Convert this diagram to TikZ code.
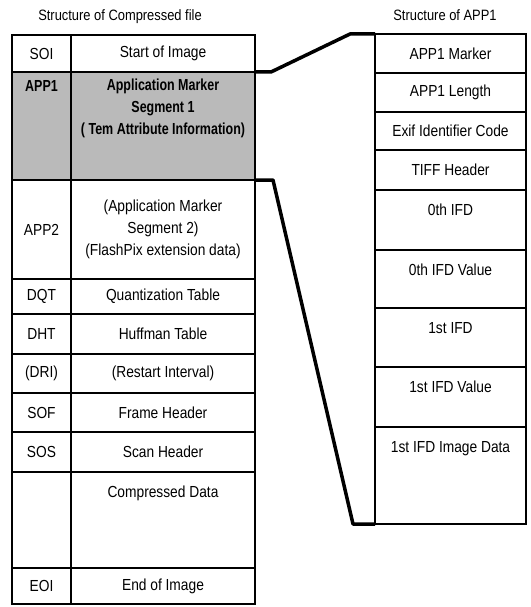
\documentclass[tikz,border=0pt]{standalone}
\usepackage{fontspec}
\setmainfont{Liberation Sans}[FakeStretch=0.86]
\newfontfamily\narrowbold{Liberation Sans}[FakeStretch=0.78]
\usepackage{tikz}
\usetikzlibrary{positioning}
\definecolor{pshade}{HTML}{BABABA}
\newcommand{\cellfont}{\fontsize{16}{22}\selectfont}

\begin{document}
\begin{tikzpicture}[x=1pt, y=1pt, font=\cellfont,
  cell/.style={draw, line width=1.5pt, inner sep=0pt, outer sep=0pt, align=center},
  seg/.style={cell, minimum width=59pt},
  info/.style={cell, minimum width=184pt},
  field/.style={cell, minimum width=151pt},
  title/.style={font=\fontsize{15}{18}\selectfont},
  toptxt/.style={anchor=north, yshift=-14pt, inner sep=0pt, align=center,
                 text height=11pt, text depth=3pt},
  link/.style={line width=3.5pt, line join=round}]
  \useasboundingbox (0,0) rectangle (530,-607);
  % titles
  \node[title] (ttl-l) at (120,-17) {Structure of Compressed file};
  \node[title] (ttl-r) at (445,-15) {Structure of APP1};
  % compressed file
  \node[seg, minimum height=37pt, anchor=north west] (soi) at (12,-35) {SOI};
  \node[info, minimum height=37pt, right=0pt of soi] (soi-i) {Start of Image};
  \node[seg, minimum height=108pt, fill=pshade, below=0pt of soi,
        label={[toptxt, yshift=6pt, font=\cellfont\narrowbold\bfseries]north:APP1}] (app1) {};
  \node[info, minimum height=108pt, fill=pshade, right=0pt of app1,
        label={[anchor=north, yshift=-7pt, inner sep=0pt, align=center, font=\cellfont\narrowbold\bfseries]north:{Application Marker\\Segment 1\\( Tem Attribute Information)}}] (app1-i) {};
  \node[seg, minimum height=99pt, below=0pt of app1] (app2) {APP2};
  \node[info, minimum height=99pt, right=0pt of app2] (app2-i)
    {(Application Marker\\Segment 2)\\(FlashPix extension data)};
  \node[seg, minimum height=35pt, below=0pt of app2] (dqt) {DQT};
  \node[info, minimum height=35pt, right=0pt of dqt] (dqt-i) {Quantization Table};
  \node[seg, minimum height=40pt, below=0pt of dqt] (dht) {DHT};
  \node[info, minimum height=40pt, right=0pt of dht] (dht-i) {Huffman Table};
  \node[seg, minimum height=39pt, below=0pt of dht] (dri) {(DRI)};
  \node[info, minimum height=39pt, right=0pt of dri] (dri-i) {(Restart Interval)};
  \node[seg, minimum height=39pt, below=0pt of dri] (sof) {SOF};
  \node[info, minimum height=39pt, right=0pt of sof] (sof-i) {Frame Header};
  \node[seg, minimum height=40pt, below=0pt of sof] (sos) {SOS};
  \node[info, minimum height=40pt, right=0pt of sos] (sos-i) {Scan Header};
  \node[seg, minimum height=96pt, below=0pt of sos] (data) {};
  \node[info, minimum height=96pt, right=0pt of data,
        label={[toptxt]north:Compressed Data}] (data-i) {};
  \node[seg, minimum height=36pt, below=0pt of data] (eoi) {EOI};
  \node[info, minimum height=36pt, right=0pt of eoi] (eoi-i) {End of Image};
  % APP1 fields
  \node[field, minimum height=39pt, anchor=north west] (mk) at (375,-34) {APP1 Marker};
  \node[field, minimum height=39pt, below=0pt of mk] (len) {APP1 Length};
  \node[field, minimum height=38pt, below=0pt of len] (exif) {Exif Identifier Code};
  \node[field, minimum height=40pt, below=0pt of exif] (tiff) {TIFF Header};
  \node[field, minimum height=60pt, below=0pt of tiff,
        label={[toptxt]north:0th IFD}] (ifd0) {};
  \node[field, minimum height=58pt, below=0pt of ifd0,
        label={[toptxt]north:0th IFD Value}] (val0) {};
  \node[field, minimum height=59pt, below=0pt of val0,
        label={[toptxt]north:1st IFD}] (ifd1) {};
  \node[field, minimum height=60pt, below=0pt of ifd1,
        label={[toptxt]north:1st IFD Value}] (val1) {};
  \node[field, minimum height=97pt, below=0pt of val1,
        label={[toptxt]north:1st IFD Image Data}] (img) {};
  % expansion lines
  \draw[link] (soi-i.south east) -- ++(16,0) -- ([xshift=-25pt]mk.north west) -- (mk.north west);
  \draw[link] (app1-i.south east) -- ++(18,0) -- ([xshift=-22pt]img.south west) -- (img.south west);
\end{tikzpicture}
\end{document}
